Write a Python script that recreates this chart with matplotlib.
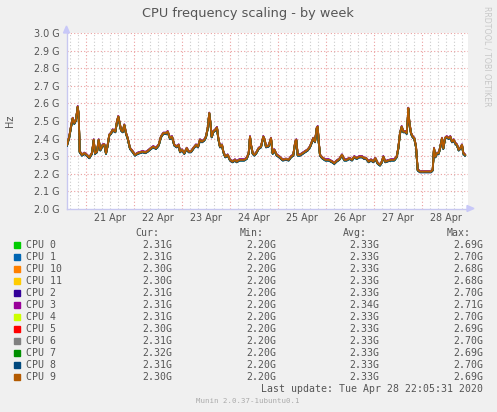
import numpy as np
import matplotlib
matplotlib.use("Agg")
import matplotlib.pyplot as plt
from matplotlib.patches import Rectangle

# hours since 20 Apr 00:00 and frequency in GHz
hours = [14.65, 15.8, 16.65, 17.5, 18.3, 19.15, 20.0, 20.5, 21.0, 22.15, 23.3, 24.5, 25.8, 27.15,
         28.0, 28.65, 29.65, 30.5, 31.3, 32.5, 33.3, 34.15, 35.0, 35.8, 36.65, 37.5, 38.8, 39.65,
         40.3, 40.8, 41.65, 42.5, 43.3, 44.15, 45.0, 46.15, 47.5, 48.65, 50.0, 51.15, 52.5, 53.8,
         55.0, 56.65, 57.8, 59.15, 60.5, 61.65, 62.8,
         64.15, 65.0, 66.15, 67.15, 68.3, 69.5, 70.5, 71.15, 72.15, 73.3, 74.5, 75.5, 76.65, 77.8,
         79.15, 80.15, 81.15, 82.15, 83.3, 84.15, 85.0, 85.8, 86.3, 87.0, 87.8, 88.8, 89.65, 90.3,
         91.15, 92.15, 92.8, 93.8, 95.0, 96.15, 97.5, 98.65, 99.5, 100.8, 102.15, 103.3, 104.5,
         105.5, 106.15, 106.65, 107.5, 108.3, 109.15, 110.5, 111.65, 112.8, 113.5,
         114.15, 115.5, 116.65, 117.5, 118.3, 119.5, 120.8, 122.5, 124.15, 125.5, 126.65, 127.8,
         128.8, 129.3, 130.0, 131.15, 132.5, 133.8, 135.0, 136.15, 137.15, 137.8, 138.65, 139.5,
         140.0, 140.5, 141.15, 142.15, 143.8, 145.5, 147.15, 148.3, 149.5, 150.8, 152.15, 153.3,
         154.5, 155.8, 157.15, 158.3, 159.5, 160.8, 162.15, 163.3,
         164.15, 165.5, 166.65, 167.8, 168.8, 170.0, 171.15, 172.15, 172.8, 173.8, 175.0, 176.65,
         178.3, 179.5, 180.3, 181.15, 182.0, 182.8, 183.8, 184.5, 185.0, 185.3, 185.8, 186.65,
         187.5, 188.3, 189.15, 190.0, 191.15, 194.15, 196.65, 197.5, 198.15, 198.8, 199.65, 200.5,
         201.15, 202.15, 202.8, 203.65, 204.5, 205.5, 206.3, 207.15, 208.0, 208.8, 209.65, 210.5,
         211.3, 212.15, 212.8, 213.65]
freq = [2.363, 2.410, 2.467, 2.515, 2.487, 2.506, 2.581, 2.534, 2.325, 2.306, 2.316, 2.306, 2.291, 2.316,
        2.392, 2.316, 2.325, 2.392, 2.335, 2.363, 2.366, 2.316, 2.363, 2.420, 2.430, 2.449, 2.439, 2.496,
        2.525, 2.496, 2.449, 2.439, 2.477, 2.430, 2.401, 2.344, 2.325, 2.306, 2.316, 2.320, 2.325, 2.320,
        2.328, 2.344, 2.353, 2.344, 2.363, 2.410, 2.430,
        2.430, 2.439, 2.401, 2.410, 2.363, 2.353, 2.363, 2.325, 2.335, 2.316, 2.344, 2.325, 2.325, 2.344,
        2.363, 2.353, 2.392, 2.382, 2.392, 2.410, 2.458, 2.544, 2.496, 2.410, 2.439, 2.449, 2.462, 2.401,
        2.353, 2.363, 2.325, 2.296, 2.306, 2.278, 2.268, 2.278, 2.268, 2.278, 2.278, 2.278, 2.287,
        2.316, 2.410, 2.363, 2.316, 2.306, 2.316, 2.344, 2.353, 2.410, 2.392,
        2.353, 2.358, 2.401, 2.316, 2.335, 2.306, 2.296, 2.278, 2.282, 2.278, 2.296, 2.306,
        2.382, 2.392, 2.306, 2.306, 2.316, 2.325, 2.335, 2.353, 2.382, 2.401, 2.382, 2.458,
        2.467, 2.382, 2.306, 2.291, 2.278, 2.278, 2.268, 2.259, 2.272, 2.282, 2.306, 2.278,
        2.278, 2.287, 2.278, 2.296, 2.287, 2.296, 2.296, 2.287,
        2.287, 2.268, 2.278, 2.268, 2.287, 2.259, 2.249, 2.268, 2.296, 2.268, 2.273, 2.278,
        2.278, 2.296, 2.344, 2.430, 2.467, 2.439, 2.439, 2.430, 2.506, 2.572, 2.496, 2.430,
        2.410, 2.401, 2.353, 2.221, 2.211, 2.211, 2.211, 2.221, 2.344, 2.296, 2.316, 2.316,
        2.344, 2.401, 2.344, 2.401, 2.410, 2.401, 2.410, 2.382, 2.392, 2.373, 2.363, 2.335,
        2.344, 2.363, 2.316, 2.306]

cpus = ["CPU 0", "CPU 1", "CPU 10", "CPU 11", "CPU 2", "CPU 3",
        "CPU 4", "CPU 5", "CPU 6", "CPU 7", "CPU 8", "CPU 9"]
colors = ["#00CC00", "#0066B3", "#FF8000", "#FFCC00", "#330099", "#990099",
          "#CCFF00", "#FF0000", "#808080", "#008F00", "#00487D", "#B35A00"]
# small per-core shift (GHz) so the overlapping cores show at the edges
cpu_offset = [-0.002, -0.003, 0.001, 0.002, 0.003, 0.004, 0.000, -0.001, -0.001, -0.002, -0.004, 0.000]
cur = ["2.31G", "2.31G", "2.30G", "2.30G", "2.31G", "2.31G", "2.31G", "2.30G", "2.31G", "2.32G", "2.31G", "2.30G"]
mins = ["2.20G"] * 12
avgs = ["2.33G", "2.33G", "2.33G", "2.33G", "2.33G", "2.34G", "2.33G", "2.33G", "2.33G", "2.33G", "2.33G", "2.33G"]
maxs = ["2.69G", "2.70G", "2.68G", "2.68G", "2.70G", "2.71G", "2.70G", "2.69G", "2.70G", "2.69G", "2.70G", "2.69G"]

day_labels = ["21 Apr", "22 Apr", "23 Apr", "24 Apr", "25 Apr", "26 Apr", "27 Apr", "28 Apr"]
y_ticks = [2.0, 2.1, 2.2, 2.3, 2.4, 2.5, 2.6, 2.7, 2.8, 2.9, 3.0]

W, H = 497, 412
fig = plt.figure(figsize=(W / 100, H / 100), dpi=100, facecolor="#F0F0F0")


def fx(x):
    return x / W


def fy(y):
    return 1 - y / H


ax = fig.add_axes([fx(66.7), fy(208.7), fx(467.7) - fx(66.7), fy(33.3) - fy(208.7)])
ax.set_facecolor("white")
x0, x1 = 14.5, 215.0
ax.set_xlim(x0, x1)
ax.set_ylim(2.0, 3.0)

# grid: grey every 4 hours, red at midnight and every 0.1 G
dot = (0, (1, 2))
for h in np.arange(16, x1, 4):
    if h % 24:
        ax.axvline(h, color="#CCCCCC", lw=0.8, ls=dot, zorder=1)
for h in np.arange(24, x1, 24):
    ax.axvline(h, color="#EBA0A0", lw=0.8, ls=dot, zorder=1)
for v in y_ticks[1:]:
    ax.axhline(v, color="#EBA0A0", lw=0.8, ls=dot, zorder=1)

for name, c, off in zip(cpus, colors, cpu_offset):
    ax.plot(hours, np.array(freq) + off, color=c, lw=1.3, zorder=3)

ax.set_yticks(y_ticks)
ax.set_yticklabels(["%.1f G" % v for v in y_ticks])
ax.set_xticks([36 + 24 * i for i in range(len(day_labels))])
ax.set_xticklabels(day_labels)
ax.tick_params(length=0, labelsize=6.9, colors="#555555")
ax.tick_params(axis="y", pad=5)
ax.tick_params(axis="x", pad=3)
for s in ["top", "right"]:
    ax.spines[s].set_visible(False)
for s in ["left", "bottom"]:
    ax.spines[s].set_color("#C8C8F0")
    ax.spines[s].set_linewidth(1.0)
ax.set_ylabel("Hz", fontsize=7, color="#555555", labelpad=14)

# axis arrows
fig.patches.append(plt.Polygon([[fx(63.5), fy(33)], [fx(69.5), fy(33)], [fx(66.5), fy(26)]],
                               closed=True, color="#C8C8F8", transform=fig.transFigure))
fig.patches.append(plt.Polygon([[fx(467), fy(205.5)], [fx(467), fy(211.5)], [fx(474), fy(208.5)]],
                               closed=True, color="#C8C8F8", transform=fig.transFigure))

fig.text(fx(248), fy(14), "CPU frequency scaling - by week", ha="center", va="center",
         fontsize=9.3, color="#555555")
fig.text(fx(487), fy(56), "RRDTOOL / TOBI OETIKER", rotation=270, ha="center", va="center",
         fontsize=5.7, color="#C8C8C8")

mono = "DejaVu Sans Mono"
tc = "#555555"
fs = 7.15
fig.text(fx(159.5), fy(233.3), "Cur:", ha="right", va="center", family=mono, fontsize=fs, color=tc)
fig.text(fx(263.5), fy(233.3), "Min:", ha="right", va="center", family=mono, fontsize=fs, color=tc)
fig.text(fx(367), fy(233.3), "Avg:", ha="right", va="center", family=mono, fontsize=fs, color=tc)
fig.text(fx(470.5), fy(233.3), "Max:", ha="right", va="center", family=mono, fontsize=fs, color=tc)
for i, name in enumerate(cpus):
    y = 244.7 + 12 * i
    fig.patches.append(Rectangle((fx(14), fy(y + 3)), fx(6), fy(y - 3) - fy(y + 3),
                                 color=colors[i], transform=fig.transFigure))
    fig.text(fx(26.5), fy(y), name, ha="left", va="center", family=mono, fontsize=fs, color=tc)
    fig.text(fx(172), fy(y), cur[i], ha="right", va="center", family=mono, fontsize=fs, color=tc)
    fig.text(fx(276), fy(y), mins[i], ha="right", va="center", family=mono, fontsize=fs, color=tc)
    fig.text(fx(379), fy(y), avgs[i], ha="right", va="center", family=mono, fontsize=fs, color=tc)
    fig.text(fx(483), fy(y), maxs[i], ha="right", va="center", family=mono, fontsize=fs, color=tc)
fig.text(fx(483), fy(388.7), "Last update: Tue Apr 28 22:05:31 2020", ha="right", va="center",
         family=mono, fontsize=fs, color=tc)
fig.text(fx(247.5), fy(401.3), "Munin 2.0.37-1ubuntu0.1", ha="center", va="center",
         family=mono, fontsize=5.3, color="#AAAAAA")

fig.savefig("out.png", dpi=100, facecolor=fig.get_facecolor())
